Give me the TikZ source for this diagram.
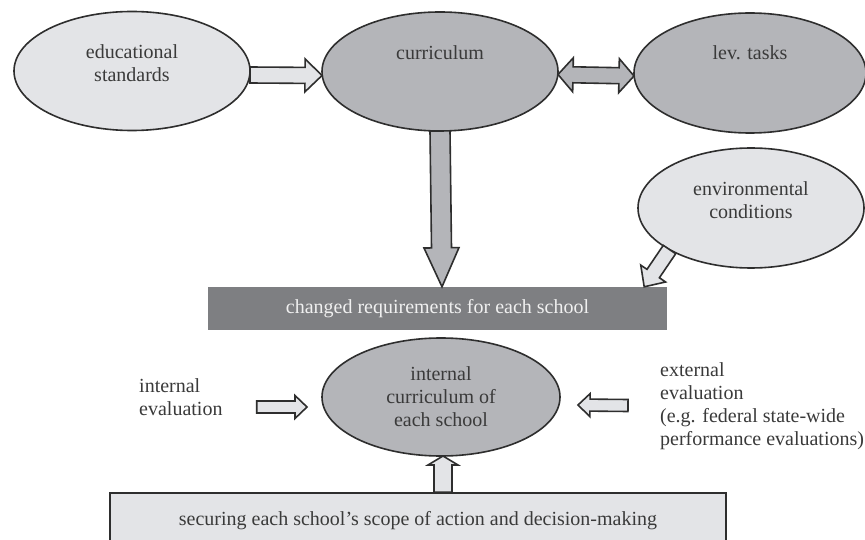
\documentclass[tikz,border=0pt]{standalone}
\usepackage{fontspec}
\setmainfont{Liberation Serif}
\usetikzlibrary{calc,shapes.geometric}

\definecolor{paleblob}{HTML}{E3E4E7}
\definecolor{midblob}{HTML}{B4B5B9}
\definecolor{barfill}{HTML}{7E7F82}
\definecolor{edgegray}{HTML}{2E2E2E}
\definecolor{inkgray}{HTML}{3A3A3A}

\tikzset{
  txt/.style={text=inkgray, align=center, font=\fontsize{20}{23}\selectfont, inner sep=0pt},
  blob/.style={ellipse, draw=edgegray, line width=1.6pt, inner sep=0pt, outer sep=0pt},
  paleblob/.style={blob, fill=paleblob},
  midblob/.style={blob, fill=midblob},
  fatpale/.style={draw=edgegray, line width=1.6pt, fill=paleblob, line join=miter},
  fatmid/.style={draw=edgegray, line width=1.6pt, fill=midblob, line join=miter},
  caption/.style={txt, align=left},
}

% block arrow: style, from, to, shaft half width, head half width, head length
\newcommand\fatarrow[6]{%
  \coordinate (fa-s) at (#2);
  \coordinate (fa-t) at (#3);
  \coordinate (fa-h) at ($(fa-t)!#6!(fa-s)$);
  \draw[#1] ($(fa-s)!#4!90:(fa-t)$) -- ($(fa-h)!#4!-90:(fa-s)$)
    -- ($(fa-h)!#5!-90:(fa-s)$) -- (fa-t) -- ($(fa-h)!#5!90:(fa-s)$)
    -- ($(fa-h)!#4!90:(fa-s)$) -- ($(fa-s)!#4!-90:(fa-t)$) -- cycle;
}
% block arrow with heads at both ends
\newcommand\twinarrow[6]{%
  \coordinate (ta-a) at (#2);
  \coordinate (ta-b) at (#3);
  \coordinate (ta-ha) at ($(ta-a)!#6!(ta-b)$);
  \coordinate (ta-hb) at ($(ta-b)!#6!(ta-a)$);
  \draw[#1] (ta-a) -- ($(ta-ha)!#5!90:(ta-b)$) -- ($(ta-ha)!#4!90:(ta-b)$)
    -- ($(ta-hb)!#4!-90:(ta-a)$) -- ($(ta-hb)!#5!-90:(ta-a)$) -- (ta-b)
    -- ($(ta-hb)!#5!90:(ta-a)$) -- ($(ta-hb)!#4!90:(ta-a)$)
    -- ($(ta-ha)!#4!-90:(ta-b)$) -- ($(ta-ha)!#5!-90:(ta-b)$) -- cycle;
}

\begin{document}
\begin{tikzpicture}[x=1pt, y=-1pt]
  \fill[white] (0,0) rectangle (865,540);
  \useasboundingbox (0,0) rectangle (865,540);

  % top row
  \node[paleblob, minimum width=236pt, minimum height=119pt,
        label={[txt, yshift=8pt]center:educational\\standards}] (edu) at (132,71) {};
  \node[midblob, minimum width=236pt, minimum height=119pt,
        label={[txt, yshift=19pt]center:curriculum}] (cur) at (440,71.5) {};
  \node[midblob, minimum width=232pt, minimum height=120pt,
        label={[txt, yshift=20pt]center:lev. tasks}] (lev) at (750,73) {};

  \node[paleblob, minimum width=226pt, minimum height=120pt,
        label={[txt, yshift=8pt]center:environmental\\conditions}] (env) at (751,208) {};

  % bar of requirements
  \node[fill=barfill, minimum width=459pt, minimum height=43pt, inner sep=0pt,
        txt, text=white!94!black] (req) at (437.5,308.5) {changed requirements for each school};

  % school level
  \node[midblob, txt, minimum width=238pt, minimum height=118pt] (int) at (441,397)
        {internal\\curriculum of\\each school};

  \node[caption, anchor=west] (ieval) at (139,397) {internal\\evaluation};
  \node[caption, anchor=west] (eeval) at (660,406.5)
        {external\\evaluation\\(e.g. federal state-wide\\performance evaluations)};

  \node[draw=edgegray, line width=1.6pt, fill=paleblob, minimum width=616pt,
        minimum height=56pt, inner sep=0pt, txt] (scope) at (418,521)
        {securing each school’s scope of action and decision-making};

  % connectors
  \fatarrow{fatpale}{[yshift=-4pt]edu.east}{[yshift=-4pt]cur.west}{8pt}{16.5pt}{17pt}
  \twinarrow{fatmid}{[yshift=-3pt]cur.east}{[yshift=-3pt]lev.west}{8pt}{17pt}{15pt}
  \fatarrow{fatmid}{cur.south}{[xshift=2pt]cur.south |- req.north}{10pt}{17.5pt}{39pt}
  \fatarrow{fatpale}{env.207}{[xshift=-23pt]req.north east}{7.5pt}{15pt}{16pt}
  \fatarrow{fatpale}{[xshift=34pt,yshift=-10pt]ieval.east}{[xshift=-15pt,yshift=-10pt]int.west}{6pt}{11.5pt}{12pt}
  \fatarrow{fatpale}{[xshift=-32pt,yshift=1pt]eeval.west}{[xshift=18pt,yshift=-8pt]int.east}{6pt}{11.5pt}{12pt}
  \fatarrow{fatpale}{[xshift=2pt]int.south |- scope.north}{[xshift=2pt]int.south}{9pt}{15pt}{9pt}
\end{tikzpicture}
\end{document}
